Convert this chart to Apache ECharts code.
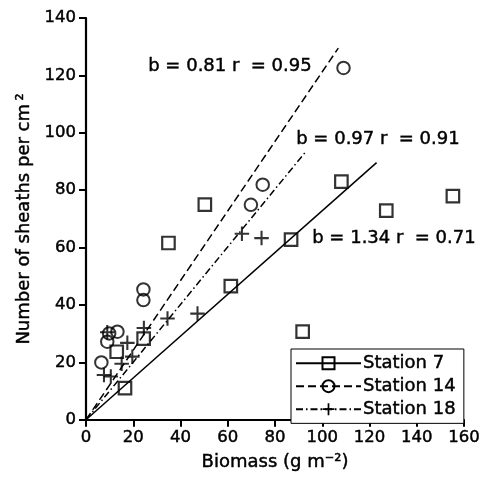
<!DOCTYPE html>
<html><head><meta charset="utf-8">
<script src="https://cdn.jsdelivr.net/npm/echarts@6/dist/echarts.min.js"></script>
<style>html,body{margin:0;padding:0;background:#fff}#c{width:486px;height:477px}</style>
</head><body><div id="c"></div>
<script>
// Data (x = biomass g m^-2, y = sheaths per cm^2)
const station7 = [[16.5,11],[13,23.7],[24.4,28.3],[34.9,61.6],[50.3,75],[61.3,46.6],[86.8,62.8],[91.7,30.7],[108.1,83],[127.1,72.9],[155.3,77.9]];
const station14 = [[6.5,20],[9,27.2],[9.8,30.1],[13.3,30.7],[24.3,41.7],[24.3,45.4],[69.8,74.9],[74.8,81.9],[109,122.6]];
const station18 = [[7.6,15.6],[10.5,15.1],[9,30.5],[15.1,19.5],[17.5,26.8],[19.6,22],[24.5,32],[34.5,35.3],[47.2,37],[66,64.8],[74.3,63.3]];
const fit7 = [[0,0],[123,89.6]];
const fit14 = [[0,0],[106.8,129.5]];
const fit18 = [[0,0],[92.7,93.1]];
const seriesNames = ['Station 7','Station 14','Station 18'];
const annotations = ['b = 0.81 r  = 0.95','b = 0.97 r  = 0.91','b = 1.34 r  = 0.71'];
const xAxisTitle = 'Biomass (g m\u207B\u00B2)';
const yAxisTitle = 'Number of sheaths per cm\u2009\u00B2';

const FONT = 'DejaVu Sans';
const TB = {textBorderColor:'#000', textBorderWidth:0.45};
const plusPath = 'path://M6,0H8V6H14V8H8V14H6V8H0V6H6Z';
const chart = echarts.init(document.getElementById('c'), null, {renderer:'canvas'});
const hollow = {color:'rgba(0,0,0,0)', borderColor:'#000', borderWidth:1.8};
function fitSeries(name, data, type, symbol, sItem){
  return {name, type:'line', data, showSymbol:false, symbol, symbolSize:12,
    lineStyle:{color:'#000', width:1.5, type}, itemStyle:sItem, silent:true, z:2, animation:false};
}
function scatterSeries(name, data, symbol, size, sItem){
  return {name, type:'scatter', data, symbol, symbolSize:size, itemStyle:sItem, z:3, animation:false};
}
chart.setOption({
  animation:false,
  backgroundColor:'#fff',
  grid:{left:86, right:22, top:18, bottom:55},
  xAxis:{type:'value', min:0, max:160, interval:20,
    name:xAxisTitle, nameLocation:'middle', nameGap:34,
    nameTextStyle:Object.assign({fontFamily:FONT, fontSize:18, color:'#000'}, TB),
    axisLine:{lineStyle:{color:'#000', width:2.2}},
    axisTick:{show:true, length:7, lineStyle:{color:'#000', width:2}},
    axisLabel:Object.assign({fontFamily:FONT, fontSize:16.5, color:'#000', margin:9}, TB),
    splitLine:{show:false}},
  yAxis:{type:'value', min:0, max:140, interval:20,
    name:yAxisTitle, nameLocation:'middle', nameGap:49,
    nameTextStyle:Object.assign({fontFamily:FONT, fontSize:18, color:'#000'}, TB),
    axisLine:{show:true, lineStyle:{color:'#000', width:2.2}},
    axisTick:{show:true, length:7, lineStyle:{color:'#000', width:2}},
    axisLabel:Object.assign({fontFamily:FONT, fontSize:16.5, color:'#000', margin:10}, TB),
    splitLine:{show:false}},
  legend:{data:seriesNames, orient:'vertical', left:291, top:349,
    padding:[5,8,5,4], itemGap:4.5, itemWidth:65, itemHeight:15,
    borderColor:'#000', borderWidth:1, backgroundColor:'#fff',
    textStyle:Object.assign({fontFamily:FONT, fontSize:18, color:'#000', padding:[0,0,0,-3]}, TB)},
  graphic:[
    {type:'text', left:148, top:57, style:{text:annotations[0], font:'18px "DejaVu Sans"', fill:'#000', stroke:'#000', lineWidth:0.45}},
    {type:'text', left:296, top:130, style:{text:annotations[1], font:'18px "DejaVu Sans"', fill:'#000', stroke:'#000', lineWidth:0.45}},
    {type:'text', left:312, top:229, style:{text:annotations[2], font:'18px "DejaVu Sans"', fill:'#000', stroke:'#000', lineWidth:0.45}}
  ],
  series:[
    fitSeries(seriesNames[0], fit7, 'solid', 'rect', hollow),
    fitSeries(seriesNames[1], fit14, [8,4], 'circle', hollow),
    fitSeries(seriesNames[2], fit18, [7,3,1.5,3], plusPath, {color:'#000'}),
    scatterSeries(seriesNames[0], station7, 'rect', 12.5, {color:'rgba(0,0,0,0)', borderColor:'#000', borderWidth:2.2}),
    scatterSeries(seriesNames[1], station14, 'circle', 12.5, {color:'rgba(0,0,0,0)', borderColor:'#000', borderWidth:2}),
    scatterSeries(seriesNames[2], station18, plusPath, 14.5, {color:'#000'})
  ]
});
</script></body></html>
